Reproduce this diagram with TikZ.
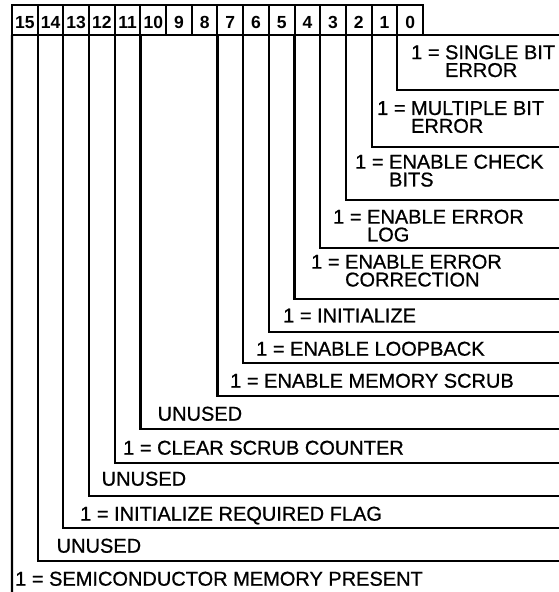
\documentclass[tikz,border=0pt]{standalone}
\usepackage{fontspec}
\setmainfont{Liberation Sans}
\newfontfamily\lblfont{Liberation Sans}[FakeBold=0.8]
\newfontfamily\hdrfont{Liberation Sans Bold}
\begin{document}
\begin{tikzpicture}[x=1pt,y=-1pt,
  cell/.style={draw, line width=2pt, outer sep=0pt, minimum width=25.69pt, minimum height=30pt,
    inner sep=0pt, text height=16.5pt, text depth=0pt, font=\hdrfont\fontsize{17.5}{18}\selectfont},
  fieldline/.style={line width=2.2pt},
  lbl/.style={anchor=north west, inner sep=0pt, align=left, font=\lblfont\fontsize{20}{17.8}\selectfont}]
\useasboundingbox (0,0) rectangle (559,592);
% header cells
\foreach \i in {0,...,15} {
  \node[cell] (b\i) at ({24.84+25.6875*(15-\i)}, 20) {\i};
}
% right ends of the field lines
\coordinate (rt) at (559,35);
\coordinate (r0) at (559,90);
\coordinate (r1) at (559,147);
\coordinate (r2) at (559,200);
\coordinate (r3) at (559,248);
\coordinate (r4) at (559,299);
\coordinate (r5) at (559,332);
\coordinate (r6) at (559,363);
\coordinate (r7) at (559,396);
\coordinate (r10) at (559,429);
\coordinate (r11) at (559,463);
\coordinate (r12) at (559,496);
\coordinate (r13) at (559,528);
\coordinate (r14) at (559,561);
\coordinate (bot) at (12,592);
% field lines
\draw[fieldline] (b0.south east) -- (rt);
\foreach \i in {0,1,2,3,4,5,6,7,10,11,12,13,14} {
  \draw[fieldline] (b\i.south west) |- (r\i);
}
\draw[fieldline] (b15.south west) -- (bot);
% labels
\node[lbl] (l0) at (411,45) {1 = SINGLE BIT\\\phantom{1 = }ERROR};
\node[lbl] (l1) at (377,101) {1 = MULTIPLE BIT\\\phantom{1 = }ERROR};
\node[lbl] (l2) at (355,154.5) {1 = ENABLE CHECK\\\phantom{1 = }BITS};
\node[lbl] (l3) at (333,209.5) {1 = ENABLE ERROR\\\phantom{1 = }LOG};
\node[lbl] (l4) at (311,254.5) {1 = ENABLE ERROR\\\phantom{1 = }CORRECTION};
\node[lbl] (l5) at (283,308.5) {1 = INITIALIZE};
\node[lbl] (l6) at (256,341.5) {1 = ENABLE LOOPBACK};
\node[lbl] (l7) at (230,373.5) {1 = ENABLE MEMORY SCRUB};
\node[lbl] (l10) at (157.5,406.5) {UNUSED};
\node[lbl] (l11) at (123,440.5) {1 = CLEAR SCRUB COUNTER};
\node[lbl] (l12) at (101.5,471.5) {UNUSED};
\node[lbl] (l13) at (80,506.5) {1 = INITIALIZE REQUIRED FLAG};
\node[lbl] (l14) at (56.5,538.5) {UNUSED};
\node[lbl] (l15) at (15,571.5) {1 = SEMICONDUCTOR MEMORY PRESENT};
\end{tikzpicture}
\end{document}
